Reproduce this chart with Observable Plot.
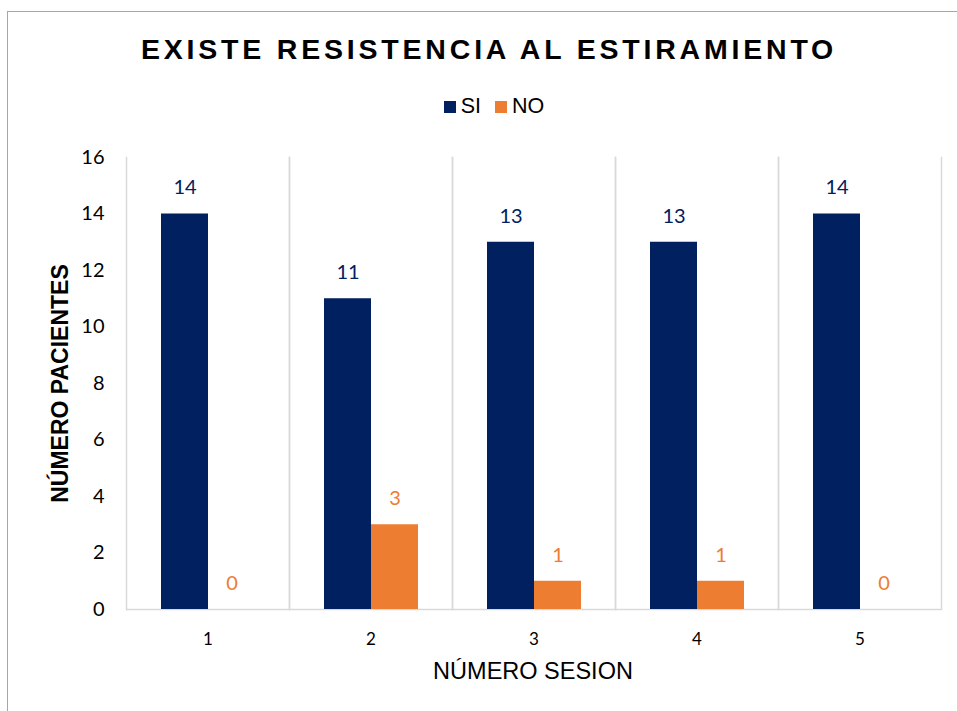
<!DOCTYPE html>
<html><head><meta charset="utf-8">
<script src="https://cdn.jsdelivr.net/npm/d3@7"></script>
<script src="https://cdn.jsdelivr.net/npm/@observablehq/plot@0.6"></script>
<style>
  body { margin:0; background:#fff; }
  #wrap { position:relative; width:957px; height:711px; overflow:hidden; background:#fff; }
  #border { position:absolute; left:7px; top:11px; width:980px; height:740px; border:1.5px solid #a6a6a6; pointer-events:none; }
  #title { height:85px; line-height:98px; text-align:center; padding-left:21px; font-family:"Liberation Sans", Arial, sans-serif; font-weight:bold; font-size:28.5px; letter-spacing:3.8px; color:#000; box-sizing:border-box; }
  #legend { height:45px; display:flex; justify-content:center; align-items:center; padding-left:31px; padding-bottom:2px; box-sizing:border-box; font-family:"Liberation Sans", Arial, sans-serif; font-size:21.5px; color:#000; }
  #legend .sw { display:inline-block; width:12px; height:12px; margin-right:5px; }
  #legend .it { display:flex; align-items:center; margin:0 7px; }
  #xlabel { height:32px; line-height:32px; text-align:center; padding-left:109px; font-family:"Liberation Sans", Arial, sans-serif; font-size:23.5px; color:#000; box-sizing:border-box; }
  svg { display:block; }
</style>
</head><body>
<div id="wrap">
  <div id="title">EXISTE RESISTENCIA AL ESTIRAMIENTO</div>
  <div id="legend"></div>
  <div id="chart"></div>
  <div id="xlabel">NÚMERO SESION</div>
  <div id="border"></div>
</div>
<script>
const sessions = ["1", "2", "3", "4", "5"];
const series = ["SI", "NO"];
const siValues = [14, 11, 13, 13, 14];
const noValues = [0, 3, 1, 1, 0];
const yTicks = [0, 2, 4, 6, 8, 10, 12, 14, 16];
const colors = ["#002060", "#ED7D31"];

const data = sessions.flatMap((s, i) => [
  {session: s, serie: "SI", value: siValues[i]},
  {session: s, serie: "NO", value: noValues[i]}
]);

const legend = document.getElementById("legend");
series.forEach((s, i) => {
  const it = document.createElement("span");
  it.className = "it";
  it.innerHTML = `<span class="sw" style="background:${colors[i]}"></span>${s}`;
  legend.appendChild(it);
});

const chart = Plot.plot({
  width: 957,
  height: 525,
  marginLeft: 125,
  marginRight: 16,
  marginTop: 27,
  marginBottom: 46,
  style: {fontFamily: "Lato, 'Open Sans', sans-serif", fontSize: "18px", color: "#000", background: "transparent"},
  fx: {domain: sessions, padding: 0, label: null, tickSize: 0, tickPadding: 23, axis: "bottom"},
  x: {domain: series, paddingInner: 0, paddingOuter: 0.734, axis: null},
  y: {domain: [0, 16], ticks: yTicks, tickSize: 0, tickPadding: 22, label: "NÚMERO PACIENTES", labelAnchor: "center", labelOffset: 75, labelArrow: false},
  color: {domain: series, range: colors},
  marks: [
    Plot.frame({anchor: "left", stroke: "#d9d9d9", strokeWidth: 1.5}),
    Plot.frame({anchor: "right", stroke: "#d9d9d9", strokeWidth: 1.5}),
    Plot.ruleY([0], {stroke: "#d9d9d9", strokeWidth: 1.5}),
    Plot.barY(data, {fx: "session", x: "serie", y: "value", fill: "serie"}),
    Plot.text(data, {fx: "session", x: "serie", y: "value", text: d => String(d.value), fill: "serie", dy: -26, fontSize: 20})
  ]
});
document.getElementById("chart").appendChild(chart);

const svg = d3.select(chart);
svg.selectAll('[aria-label^="y-axis"]').attr("font-size", 20);
svg.selectAll('[aria-label^="fx-axis"]').attr("font-size", 17);
svg.selectAll('[aria-label="y-axis label"]')
  .attr("font-family", "'Liberation Sans', Arial, sans-serif")
  .attr("font-weight", "bold").attr("font-size", 23);
</script>
</body></html>
